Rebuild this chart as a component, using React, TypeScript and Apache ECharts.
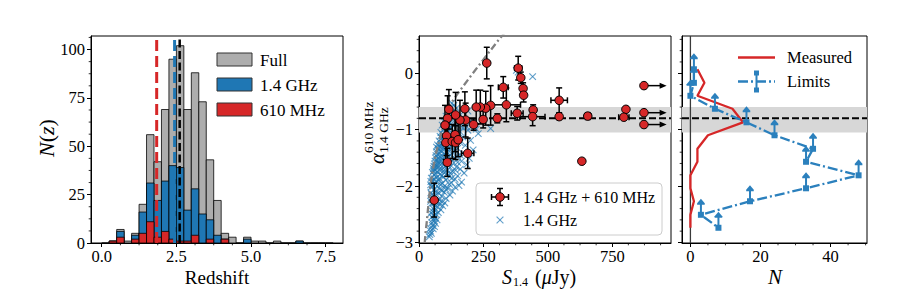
import React, { useEffect, useRef } from 'react';
import * as echarts from 'echarts';

const FONT = "'Liberation Serif', 'Times New Roman', serif";
const BLUE = '#1f77b4';
const RED = '#d62728';
const GRAY = '#adadad';
const LIM_BLUE = '#2b80bd';

// ---------------- Panel 1: redshift distribution ----------------
const binLefts = [0, 0.25, 0.5, 0.75, 1, 1.25, 1.5, 1.75, 2, 2.25, 2.5, 2.75, 3, 3.25, 3.5, 3.75, 4, 4.25, 4.5, 4.75, 5, 5.25, 5.5, 5.75, 6, 6.25, 6.5, 6.75, 7, 7.25, 7.5];
const binWidth = 0.25;
const fullCounts = [0, 1, 7, 1, 5, 20, 56, 42, 69, 95, 102, 69, 88, 73, 43, 22, 5, 3, 0, 3, 1, 1, 0, 1, 0, 0, 1, 0, 0, 0, 0];
const ghzCounts = [0, 1, 6, 0, 4, 16, 31, 22, 32, 40, 39, 17, 28, 15, 12, 4, 2, 0, 0, 2, 0, 0, 0, 0, 0, 0, 1, 0, 0, 0, 0];
const mhzCounts = [0, 1, 3, 0, 2, 5, 11, 3, 6, 2, 1, 1, 4, 0, 2, 0, 2, 0, 0, 0, 0, 0, 0, 0, 0, 0, 0, 0, 0, 0, 0];
const medianZ610 = 1.84;
const medianZ14 = 2.44;
const medianZFull = 2.61;
const histLegendLabels = ['Full', '1.4 GHz', '610 MHz'];
const histXTicks = [0, 2.5, 5, 7.5];
const histYTicks = [0, 25, 50, 75, 100];

// ---------------- Panel 2: spectral index vs flux ----------------
// [S1.4 (uJy), alpha, S error, alpha error]
const pairedSources = [
  [263, 0.18, 3, 0.28], [385, 0.09, 14, 0.21], [395, -0.08, 10, 0.1], [404, -0.27, 10, 0.1],
  [406, -0.39, 8, 0.12], [327, -0.25, 19, 0.19], [544, -0.48, 32, 0.22], [443, -0.65, 10, 0.09],
  [339, -0.56, 55, 0.3], [381, -0.71, 23, 0.12], [441, -0.77, 48, 0.16], [544, -0.77, 8, 0.05],
  [655, -0.76, 12, 0.06], [803, -0.64, 5, 0.04], [795, -0.78, 20, 0.04], [632, -1.56, 0, 0],
  [278, -0.57, 10, 0.35], [259, -0.62, 8, 0.3], [238, -0.6, 8, 0.3], [222, -0.6, 8, 0.3],
  [249, -0.82, 8, 0.15], [304, -0.8, 10, 0.08], [212, -0.91, 8, 0.1], [181, -0.83, 8, 0.3],
  [178, -0.63, 8, 0.3], [159, -0.83, 8, 0.35], [142, -0.74, 8, 0.4], [111, -0.8, 6, 0.4],
  [116, -0.64, 6, 0.35], [101, -0.92, 6, 0.35], [107, -1.11, 6, 0.35], [140, -1.09, 6, 0.3],
  [104, -1.23, 6, 0.3], [129, -1.21, 6, 0.3], [142, -1.23, 6, 0.3], [152, -1.18, 6, 0.3],
  [189, -1.42, 24, 0.27], [110, -1.58, 6, 0.25], [59, -2.25, 4, 0.3],
];
const limitSourceS = [873, 873, 873];
const limitSourceAlpha = [-0.22, -0.7, -0.91];
const limitArrowEndS = 961;
const ghzOnlySources = [
  [42, -2.86], [48, -2.84], [45, -2.8], [55, -2.76], [60, -2.72], [52, -2.7], [64, -2.66], [58, -2.62], [70, -2.6],
  [50, -2.55], [58, -2.52], [66, -2.5], [75, -2.47], [62, -2.44], [85, -2.42], [55, -2.4], [70, -2.37], [92, -2.35], [80, -2.33], [48, -2.31], [100, -2.3],
  [45, -2.27], [60, -2.25], [78, -2.24], [105, -2.22], [52, -2.2], [88, -2.18], [120, -2.16], [68, -2.15], [46, -2.12], [98, -2.11], [130, -2.09], [58, -2.07], [80, -2.05], [112, -2.04], [140, -2.02], [49, -2.01], [70, -2.0], [155, -1.99],
  [45, -1.98], [62, -1.96], [90, -1.95], [125, -1.94], [165, -1.93], [52, -1.91], [75, -1.9], [105, -1.89], [140, -1.88], [48, -1.86], [68, -1.85], [95, -1.84], [118, -1.83], [150, -1.82], [58, -1.8], [82, -1.79], [110, -1.78], [175, -1.77], [52, -1.76], [72, -1.75], [130, -1.74], [62, -1.72], [100, -1.71], [160, -1.7],
  [56, -1.69], [85, -1.68], [120, -1.67], [145, -1.66], [68, -1.64], [95, -1.63], [185, -1.62], [60, -1.61], [78, -1.6], [135, -1.59], [108, -1.57], [165, -1.56], [70, -1.55], [90, -1.53], [125, -1.52], [195, -1.51], [64, -1.5], [82, -1.48], [150, -1.47], [105, -1.46], [72, -1.44], [175, -1.43], [98, -1.42], [130, -1.41],
  [68, -1.39], [85, -1.38], [115, -1.37], [210, -1.36], [75, -1.34], [150, -1.33], [95, -1.32], [80, -1.3], [125, -1.29], [180, -1.28], [72, -1.27], [105, -1.26], [90, -1.24], [160, -1.23], [120, -1.22], [78, -1.2], [200, -1.19], [100, -1.18], [140, -1.16], [88, -1.15], [170, -1.13], [82, -1.12], [115, -1.11],
  [92, -1.09], [135, -1.08], [230, -1.07], [85, -1.05], [160, -1.04], [108, -1.03], [190, -1.01], [95, -1.0], [278, -0.98], [222, -0.99], [125, -0.97], [215, -0.96], [100, -0.95], [150, -0.93], [90, -0.92], [175, -0.9], [120, -0.88], [98, -0.86], [200, -0.85], [140, -0.83], [110, -0.81],
  [125, -0.78], [105, -0.76], [160, -0.74], [115, -0.72], [130, -0.69], [190, -0.67], [112, -0.65], [145, -0.62], [122, -0.6], [135, -0.57], [128, -0.53],
  [378, 0.05], [385, 0.02], [441, -0.06],
  [40, -2.9], [44, -2.75], [50, -2.65], [56, -2.58], [62, -2.56], [47, -2.48], [53, -2.45], [60, -2.38], [67, -2.3], [74, -2.28], [86, -2.27], [56, -2.3],
  [50, -2.15], [64, -2.1], [75, -2.12], [90, -2.08], [105, -2.06], [55, -2.0], [85, -1.98], [100, -2.0], [118, -1.97], [46, -1.92], [66, -1.92], [80, -1.87],
  [58, -1.87], [128, -1.86], [88, -1.82], [64, -1.78], [98, -1.76], [122, -1.77], [56, -1.73], [84, -1.73], [110, -1.72], [142, -1.72], [66, -1.67], [76, -1.66],
  [102, -1.65], [58, -1.65], [88, -1.6], [116, -1.6], [150, -1.58], [74, -1.58], [62, -1.56], [98, -1.55], [82, -1.54], [112, -1.5], [138, -1.5], [74, -1.5],
  [92, -1.47], [66, -1.46], [120, -1.45], [160, -1.45], [80, -1.42], [108, -1.4], [140, -1.38], [76, -1.36], [100, -1.35], [128, -1.34], [88, -1.33], [110, -1.3],
  [68, -1.31], [135, -1.25], [98, -1.22], [84, -1.26], [112, -1.18], [125, -1.14], [96, -1.13], [150, -1.1], [102, -1.07], [118, -1.02], [170, -0.97], [130, -0.92],
  [160, -0.88], [112, -0.9], [185, -0.95],
];
const detectionCurve = [
  [22, -3.01], [26, -2.8], [31, -2.6], [37, -2.3], [44, -2.0], [54, -1.7], [67, -1.4], [84, -1.1],
  [101, -0.85], [120, -0.56], [152, -0.35], [204, -0.03], [263, 0.32], [314, 0.62], [330, 0.7],
];
const alphaBandTop = -0.6;
const alphaBandBottom = -1.05;
const alphaMedian = -0.8;
const fluxTicks = [0, 250, 500, 750];
const alphaTicks = [-3, -2, -1, 0];

// ---------------- Panel 3: alpha distribution ----------------
const alphaBins = [0.07, -0.17, -0.4, -0.63, -0.87, -1.1, -1.34, -1.57, -1.81, -2.04, -2.27, -2.51, -2.74];
const measuredN = [2, 4, 2, 12, 15, 5, 2, 2, 0, 0, 1, 0, 0];
const limitN = [1, 1, 0, 7, 16, 24, 35, 33, 48, 33, 17, 3, 8];
const countTicks = [0, 20, 40];

// ---------------- axis ranges ----------------
const X0 = [-0.36, 8.08];
const Y0 = [0, 107];
const X1 = [0, 978];
const YA = [-3.01, 0.66];
const X2 = [-2.4, 50.4];

function minorTicks(min: number, max: number, step: number, majors: number[]) {
  const out: number[] = [];
  for (let k = Math.ceil(min / step - 1e-9); k * step <= max + 1e-9; k++) {
    const v = +(k * step).toFixed(6);
    if (!majors.some((m) => Math.abs(m - v) < 1e-6)) out.push(v);
  }
  return out;
}

const minus = (v: number) => (v < 0 ? '\u2212' + String(Math.abs(v)) : String(v));

function valueAxis(gridIndex: number, range: number[], majors: number[], fmt: (v: number) => string, showLabels: boolean, margin: number) {
  return {
    type: 'value',
    gridIndex,
    min: range[0],
    max: range[1],
    axisLine: { show: true, onZero: false, lineStyle: { color: '#000', width: 1 } },
    splitLine: { show: false },
    axisTick: { show: true, inside: false, customValues: majors, length: 4, lineStyle: { color: '#000', width: 1 } },
    axisLabel: { show: showLabels, customValues: majors, formatter: fmt, color: '#000', fontFamily: FONT, fontSize: 16.5, margin },
  };
}

function minorTickSeries(xi: number, yi: number, dir: 'x' | 'y', values: number[], anchor: number) {
  return {
    type: 'custom',
    xAxisIndex: xi,
    yAxisIndex: yi,
    clip: false,
    silent: true,
    z: 10,
    data: values.map((v) => (dir === 'x' ? [v, anchor] : [anchor, v])),
    renderItem: (params: any, api: any) => {
      const p = api.coord([api.value(0), api.value(1)]);
      const shape = dir === 'x'
        ? { x1: p[0], y1: p[1], x2: p[0], y2: p[1] + 2.3 }
        : { x1: p[0] - 2.3, y1: p[1], x2: p[0], y2: p[1] };
      return { type: 'line', shape, style: { stroke: '#000', lineWidth: 0.8 } };
    },
  };
}

function histSeries(counts: number[], fill: string, z: number, drawZero: boolean) {
  return {
    type: 'custom',
    xAxisIndex: 0,
    yAxisIndex: 0,
    z,
    silent: true,
    data: binLefts.map((x, i) => [x, x + binWidth, counts[i]]),
    renderItem: (params: any, api: any) => {
      const c = api.value(2);
      if (c <= 0 && !drawZero) return null;
      const p0 = api.coord([api.value(0), c]);
      const p1 = api.coord([api.value(1), 0]);
      return {
        type: 'rect',
        shape: { x: p0[0], y: p0[1], width: p1[0] - p0[0], height: p1[1] - p0[1] },
        style: { fill, stroke: 'rgba(0,0,0,0.78)', lineWidth: 1 },
      };
    },
  };
}

function vLine(x: number, color: string, width: number, dash: number[], z: number) {
  return {
    type: 'line',
    xAxisIndex: 0,
    yAxisIndex: 0,
    z,
    symbol: 'none',
    silent: true,
    data: [[x, Y0[0]], [x, Y0[1]]],
    lineStyle: { color, width, type: dash },
  };
}

function bandSeries(xi: number, yi: number) {
  return [
    {
      type: 'custom', xAxisIndex: xi, yAxisIndex: yi, silent: true, z: 1,
      data: [[alphaBandTop, alphaBandBottom]],
      renderItem: (params: any, api: any) => {
        const cs = params.coordSys;
        const yT = api.coord([0, api.value(0)])[1];
        const yB = api.coord([0, api.value(1)])[1];
        return { type: 'rect', shape: { x: cs.x, y: yT, width: cs.width, height: yB - yT }, style: { fill: '#d7d7d7' } };
      },
    },
    {
      type: 'custom', xAxisIndex: xi, yAxisIndex: yi, silent: true, z: 4,
      data: [[alphaMedian, alphaMedian]],
      renderItem: (params: any, api: any) => {
        const cs = params.coordSys;
        const y = api.coord([0, api.value(0)])[1];
        return { type: 'line', shape: { x1: cs.x, y1: y, x2: cs.x + cs.width, y2: y }, style: { stroke: '#000', lineWidth: 2, lineDash: [7, 3] } };
      },
    },
  ];
}

function buildOption() {
  const gridBase = { top: 36, height: 207, show: true, borderColor: '#000', borderWidth: 1, backgroundColor: 'transparent', containLabel: false, outerBoundsMode: 'none' };
  const txt = (x: number, y: number, text: string, size: number, extra: any = {}) => ({
    type: 'text', x, y, z: 60,
    style: { text, fill: '#000', fontFamily: FONT, fontSize: size, align: 'left', verticalAlign: 'middle', ...extra },
  });

  const graphics: any[] = [];
  // Panel 1 legend
  const legColors = [GRAY, BLUE, RED];
  histLegendLabels.forEach((label, i) => {
    graphics.push({ type: 'rect', z: 60, shape: { x: 217, y: 53 + 25 * i, width: 35, height: 13 }, style: { fill: legColors[i], stroke: '#333', lineWidth: 1 } });
    graphics.push(txt(260, 60 + 25 * i, label, 17));
  });
  // Axis titles
  graphics.push(txt(217, 277, 'Redshift', 19, { align: 'center' }));
  graphics.push({
    type: 'text', x: 46, y: 138, rotation: Math.PI / 2, z: 60,
    style: {
      text: '{i|N}{n|(}{i|z}{n|)}', fill: '#000', fontFamily: FONT, fontSize: 22, align: 'center', verticalAlign: 'middle',
      rich: { i: { fontStyle: 'italic', fontSize: 22, fontFamily: FONT }, n: { fontSize: 22, fontFamily: FONT } },
    },
  });
  graphics.push({
    type: 'group', x: 377, y: 164, rotation: Math.PI / 2, z: 60,
    children: [
      { type: 'text', x: 0, y: 0, style: { text: 'α', fill: '#000', fontFamily: FONT, fontStyle: 'italic', fontSize: 21, align: 'left', verticalAlign: 'middle' } },
      { type: 'text', x: 11, y: -8.5, style: { text: '610 MHz', fill: '#000', fontFamily: FONT, fontSize: 13.5, align: 'left', verticalAlign: 'middle' } },
      { type: 'text', x: 11, y: 6.5, style: { text: '1.4 GHz', fill: '#000', fontFamily: FONT, fontSize: 13.5, align: 'left', verticalAlign: 'middle' } },
    ],
  });
  graphics.push(txt(502, 277, 'S', 20, { fontStyle: 'italic' }));
  graphics.push(txt(513, 282, '1.4', 12));
  graphics.push({
    type: 'text', x: 535, y: 277, z: 60,
    style: {
      text: '{n|(}{i|μ}{n|Jy)}', fill: '#000', fontFamily: FONT, fontSize: 20, align: 'left', verticalAlign: 'middle',
      rich: { i: { fontStyle: 'italic', fontSize: 20, fontFamily: FONT }, n: { fontSize: 20, fontFamily: FONT } },
    },
  });
  graphics.push(txt(775, 277, 'N', 21, { fontStyle: 'italic', align: 'center' }));

  // Panel 2 legend
  graphics.push({ type: 'rect', z: 55, shape: { x: 476, y: 183, width: 186, height: 52, r: 4 }, style: { fill: 'rgba(255,255,255,0.85)', stroke: '#cccccc', lineWidth: 1 } });
  const lx = 500, ly = 197;
  graphics.push({ type: 'line', z: 60, shape: { x1: lx - 8.5, y1: ly, x2: lx + 8.5, y2: ly }, style: { stroke: '#000', lineWidth: 1.5 } });
  graphics.push({ type: 'line', z: 60, shape: { x1: lx, y1: ly - 8.5, x2: lx, y2: ly + 8.5 }, style: { stroke: '#000', lineWidth: 1.5 } });
  graphics.push({ type: 'line', z: 60, shape: { x1: lx - 8.5, y1: ly - 3, x2: lx - 8.5, y2: ly + 3 }, style: { stroke: '#000', lineWidth: 1.5 } });
  graphics.push({ type: 'line', z: 60, shape: { x1: lx + 8.5, y1: ly - 3, x2: lx + 8.5, y2: ly + 3 }, style: { stroke: '#000', lineWidth: 1.5 } });
  graphics.push({ type: 'line', z: 60, shape: { x1: lx - 3, y1: ly - 8.5, x2: lx + 3, y2: ly - 8.5 }, style: { stroke: '#000', lineWidth: 1.5 } });
  graphics.push({ type: 'line', z: 60, shape: { x1: lx - 3, y1: ly + 8.5, x2: lx + 3, y2: ly + 8.5 }, style: { stroke: '#000', lineWidth: 1.5 } });
  graphics.push({ type: 'circle', z: 61, shape: { cx: lx, cy: ly, r: 4.3 }, style: { fill: RED, stroke: '#000', lineWidth: 1 } });
  graphics.push(txt(523, 197, '1.4 GHz + 610 MHz', 16));
  graphics.push({ type: 'line', z: 60, shape: { x1: lx - 3.4, y1: 220 - 3.4, x2: lx + 3.4, y2: 220 + 3.4 }, style: { stroke: BLUE, lineWidth: 1.1, opacity: 0.7 } });
  graphics.push({ type: 'line', z: 60, shape: { x1: lx - 3.4, y1: 220 + 3.4, x2: lx + 3.4, y2: 220 - 3.4 }, style: { stroke: BLUE, lineWidth: 1.1, opacity: 0.7 } });
  graphics.push(txt(523, 220, '1.4 GHz', 16));

  // Panel 3 legend
  graphics.push({ type: 'line', z: 60, shape: { x1: 738, y1: 57.5, x2: 775, y2: 57.5 }, style: { stroke: RED, lineWidth: 2.3 } });
  graphics.push(txt(787, 57.5, 'Measured', 16.5));
  graphics.push({ type: 'line', z: 60, shape: { x1: 738, y1: 81.5, x2: 775, y2: 81.5 }, style: { stroke: LIM_BLUE, lineWidth: 2.3, lineDash: [10, 3, 2, 3] } });
  graphics.push({ type: 'line', z: 60, shape: { x1: 756.5, y1: 73, x2: 756.5, y2: 90 }, style: { stroke: LIM_BLUE, lineWidth: 2 } });
  graphics.push({ type: 'rect', z: 61, shape: { x: 754, y: 70.5, width: 5, height: 5 }, style: { fill: LIM_BLUE } });
  graphics.push({ type: 'rect', z: 61, shape: { x: 754, y: 87.5, width: 5, height: 5 }, style: { fill: LIM_BLUE } });
  graphics.push(txt(787, 81.5, 'Limits', 16.5));

  const series: any[] = [
    // Panel 1
    histSeries(fullCounts, GRAY, 2, true),
    histSeries(ghzCounts, BLUE, 3, false),
    histSeries(mhzCounts, RED, 4, false),
    vLine(medianZ610, RED, 3, [11, 5], 5),
    vLine(medianZ14, BLUE, 3, [11, 5], 5),
    vLine(medianZFull, '#000', 2.5, [8, 3.5], 6),
    minorTickSeries(0, 0, 'x', minorTicks(X0[0], X0[1], 0.625, histXTicks), Y0[0]),
    minorTickSeries(0, 0, 'y', minorTicks(Y0[0], Y0[1], 6.25, histYTicks), X0[0]),
    // Panel 2
    ...bandSeries(1, 1),
    {
      type: 'custom', xAxisIndex: 1, yAxisIndex: 1, z: 2, silent: true,
      data: ghzOnlySources,
      renderItem: (params: any, api: any) => {
        const p = api.coord([api.value(0), api.value(1)]);
        const r = 3.3;
        const st = { stroke: BLUE, lineWidth: 1.1, opacity: 0.7 };
        return {
          type: 'group', children: [
            { type: 'line', shape: { x1: p[0] - r, y1: p[1] - r, x2: p[0] + r, y2: p[1] + r }, style: st },
            { type: 'line', shape: { x1: p[0] - r, y1: p[1] + r, x2: p[0] + r, y2: p[1] - r }, style: st },
          ],
        };
      },
    },
    {
      type: 'line', xAxisIndex: 1, yAxisIndex: 1, z: 3, symbol: 'none', silent: true,
      data: detectionCurve,
      lineStyle: { color: '#808080', width: 2.3, type: [7, 3, 2, 3] },
    },
    {
      type: 'custom', xAxisIndex: 1, yAxisIndex: 1, z: 5, silent: true,
      data: pairedSources,
      renderItem: (params: any, api: any) => {
        const s = api.value(0), a = api.value(1), ds = api.value(2), da = api.value(3);
        const st = { stroke: '#000', lineWidth: 1.5 };
        const kids: any[] = [];
        const cap = 3;
        if (da > 0) {
          const t = api.coord([s, a + da]);
          const b = api.coord([s, a - da]);
          kids.push({ type: 'line', shape: { x1: t[0], y1: t[1], x2: b[0], y2: b[1] }, style: st });
          kids.push({ type: 'line', shape: { x1: t[0] - cap, y1: t[1], x2: t[0] + cap, y2: t[1] }, style: st });
          kids.push({ type: 'line', shape: { x1: b[0] - cap, y1: b[1], x2: b[0] + cap, y2: b[1] }, style: st });
        }
        if (ds > 0) {
          const l = api.coord([s - ds, a]);
          const r = api.coord([s + ds, a]);
          kids.push({ type: 'line', shape: { x1: l[0], y1: l[1], x2: r[0], y2: r[1] }, style: st });
          kids.push({ type: 'line', shape: { x1: l[0], y1: l[1] - cap, x2: l[0], y2: l[1] + cap }, style: st });
          kids.push({ type: 'line', shape: { x1: r[0], y1: r[1] - cap, x2: r[0], y2: r[1] + cap }, style: st });
        }
        return { type: 'group', children: kids };
      },
    },
    {
      type: 'custom', xAxisIndex: 1, yAxisIndex: 1, z: 5, silent: true, clip: false,
      data: limitSourceS.map((s, i) => [s, limitSourceAlpha[i], limitArrowEndS]),
      renderItem: (params: any, api: any) => {
        const p = api.coord([api.value(0), api.value(1)]);
        const e = api.coord([api.value(2), api.value(1)]);
        return {
          type: 'group', children: [
            { type: 'line', shape: { x1: p[0], y1: p[1], x2: e[0] - 5, y2: e[1] }, style: { stroke: '#000', lineWidth: 1.5 } },
            { type: 'polygon', shape: { points: [[e[0], e[1]], [e[0] - 7, e[1] - 3], [e[0] - 7, e[1] + 3]] }, style: { fill: '#000' } },
          ],
        };
      },
    },
    {
      type: 'scatter', xAxisIndex: 1, yAxisIndex: 1, z: 6, silent: true,
      symbol: 'circle', symbolSize: 8.5,
      data: pairedSources.map((p) => [p[0], p[1]]).concat(limitSourceS.map((s, i) => [s, limitSourceAlpha[i]])),
      itemStyle: { color: RED, borderColor: '#000', borderWidth: 1, opacity: 1 },
    },
    minorTickSeries(1, 1, 'x', minorTicks(X1[0], X1[1], 62.5, fluxTicks), YA[0]),
    minorTickSeries(1, 1, 'y', minorTicks(YA[0], YA[1], 0.2, alphaTicks), X1[0]),
    // Panel 3
    ...bandSeries(2, 2),
    {
      type: 'custom', xAxisIndex: 2, yAxisIndex: 2, z: 2, silent: true,
      data: [[0, 0]],
      renderItem: (params: any, api: any) => {
        const cs = params.coordSys;
        const x = api.coord([api.value(0), 0])[0];
        return { type: 'line', shape: { x1: x, y1: cs.y, x2: x, y2: cs.y + cs.height }, style: { stroke: '#3a3a3a', lineWidth: 1.3 } };
      },
    },
    {
      type: 'line', xAxisIndex: 2, yAxisIndex: 2, z: 5, symbol: 'none', silent: true,
      data: alphaBins.map((a, i) => [measuredN[i], a]),
      lineStyle: { color: RED, width: 2.3 },
    },
    {
      type: 'line', xAxisIndex: 2, yAxisIndex: 2, z: 5, silent: true,
      symbol: 'rect', symbolSize: 6, showSymbol: true,
      data: alphaBins.map((a, i) => [limitN[i], a]),
      lineStyle: { color: LIM_BLUE, width: 2.3, type: [10, 3, 2, 3] },
      itemStyle: { color: LIM_BLUE },
    },
    {
      type: 'custom', xAxisIndex: 2, yAxisIndex: 2, z: 6, silent: true, clip: false,
      data: alphaBins.map((a, i) => [limitN[i], a]),
      renderItem: (params: any, api: any) => {
        const p = api.coord([api.value(0), api.value(1)]);
        const len = 14;
        return {
          type: 'group', children: [
            { type: 'line', shape: { x1: p[0], y1: p[1], x2: p[0], y2: p[1] - len + 3 }, style: { stroke: LIM_BLUE, lineWidth: 2 } },
            { type: 'polygon', shape: { points: [[p[0], p[1] - len - 2], [p[0] - 3.8, p[1] - len + 2.5], [p[0] - 3.8, p[1] - len + 4], [p[0] + 3.8, p[1] - len + 4], [p[0] + 3.8, p[1] - len + 2.5]] }, style: { fill: LIM_BLUE } },
          ],
        };
      },
    },
    minorTickSeries(2, 2, 'x', minorTicks(X2[0], X2[1], 5, countTicks), YA[0]),
    minorTickSeries(2, 2, 'y', minorTicks(YA[0], YA[1], 0.2, alphaTicks), X2[0]),
  ];

  return {
    animation: false,
    backgroundColor: '#fff',
    textStyle: { fontFamily: FONT },
    grid: [
      { ...gridBase, left: 91, width: 252 },
      { ...gridBase, left: 419, width: 252 },
      { ...gridBase, left: 682, width: 185 },
    ],
    xAxis: [
      valueAxis(0, X0, histXTicks, (v: number) => v.toFixed(1), true, 5),
      valueAxis(1, X1, fluxTicks, (v: number) => String(v), true, 5),
      valueAxis(2, X2, countTicks, (v: number) => String(v), true, 5),
    ],
    yAxis: [
      valueAxis(0, Y0, histYTicks, (v: number) => String(v), true, 6),
      valueAxis(1, YA, alphaTicks, minus, true, 6),
      valueAxis(2, YA, alphaTicks, minus, false, 6),
    ],
    series,
    graphic: { elements: graphics },
  };
}

export default function App() {
  const ref = useRef<HTMLDivElement>(null);
  useEffect(() => {
    if (!ref.current) return;
    const chart = echarts.init(ref.current, undefined, { renderer: 'svg' });
    chart.setOption(buildOption() as any);
    return () => chart.dispose();
  }, []);
  return <div ref={ref} style={{ position: 'fixed', left: 0, top: 0, width: 913, height: 305, background: '#fff' }} />;
}
